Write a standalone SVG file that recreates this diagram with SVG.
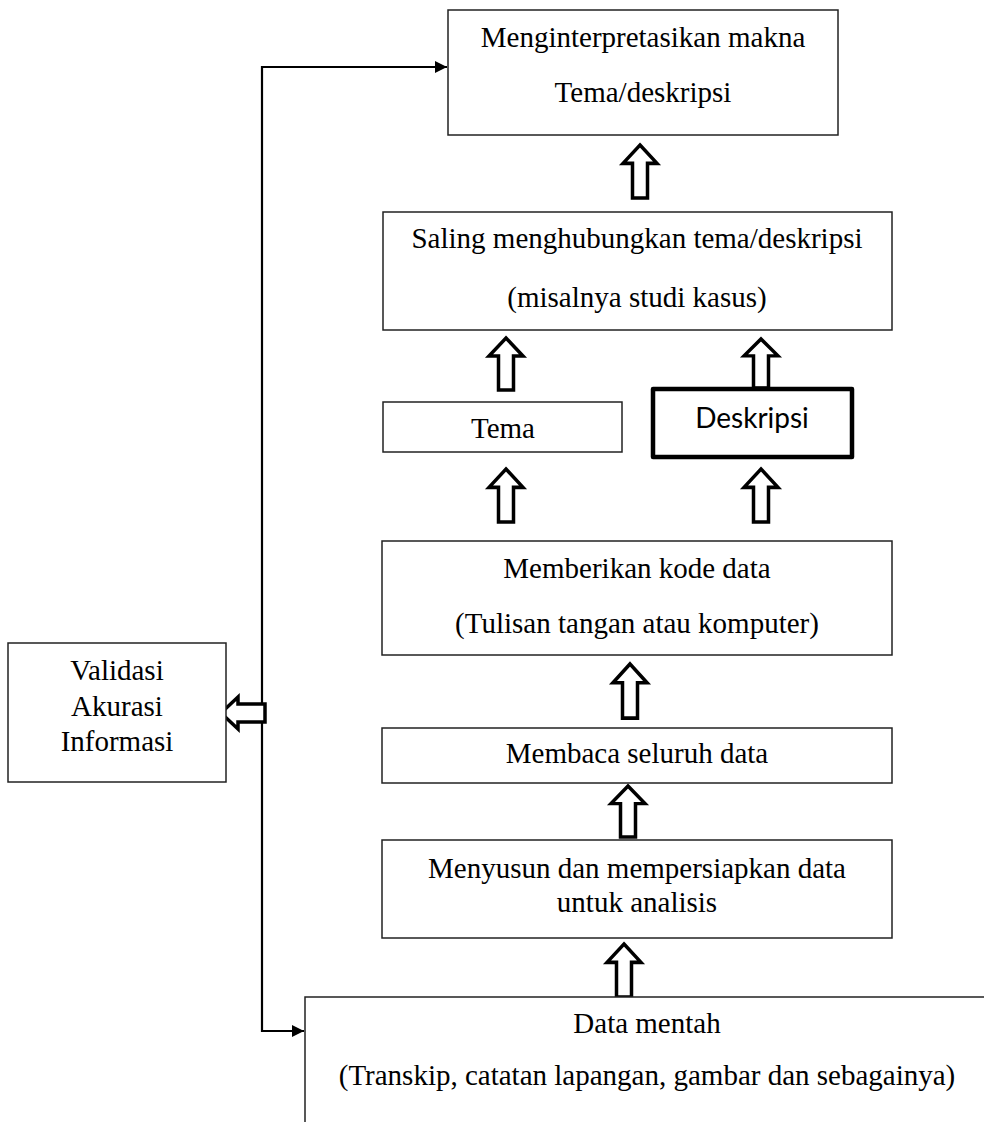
<svg xmlns="http://www.w3.org/2000/svg" width="984" height="1122" viewBox="0 0 984 1122">
<style>
.box{fill:#fff;stroke:#222;stroke-width:1.5}
.thick{fill:#fff;stroke:#000;stroke-width:4.5;stroke-linejoin:round}
.t{font-family:"Liberation Serif","Times New Roman",serif;font-size:29px;fill:#000;text-anchor:middle}
.s{font-family:Lato,"Liberation Sans",sans-serif;font-size:28px;fill:#000;text-anchor:middle}
.ha{fill:#fff;stroke:#000;stroke-width:3.5;stroke-linejoin:miter}
.ln{fill:none;stroke:#000;stroke-width:2.2}
</style>
<defs>
<marker id="ah" viewBox="0 0 10 10" refX="10" refY="5" markerWidth="16" markerHeight="12" markerUnits="userSpaceOnUse" orient="auto"><path d="M0,0 L10,5 L0,10 Z" fill="#000"/></marker>
<path id="up" d="M0,0 L17,18 L7.5,18 L7.5,52 L-7.5,52 L-7.5,18 L-17,18 Z"/>
</defs>
<rect width="984" height="1122" fill="#fff"/>

<g id="connectors">
<path class="ln" d="M262,713 L262,67 L447,67" marker-end="url(#ah)"/>
<path class="ln" d="M262,713 L262,1031 L304,1031" marker-end="url(#ah)"/>
<use href="#up" class="ha" transform="translate(640,145) scale(1,1.02)"/>
<use href="#up" class="ha" transform="translate(506,338)"/>
<use href="#up" class="ha" transform="translate(761,339) scale(1,0.94)"/>
<use href="#up" class="ha" transform="translate(506,469) scale(1,1.02)"/>
<use href="#up" class="ha" transform="translate(761,469) scale(1,1.02)"/>
<use href="#up" class="ha" transform="translate(630,664) scale(1,1.04)"/>
<use href="#up" class="ha" transform="translate(628,786) scale(1,0.98)"/>
<use href="#up" class="ha" transform="translate(624,944) scale(1,1.02)"/>
<path class="ha" d="M221,713 L238,697 L238,704 L265,704 L265,722 L238,722 L238,729 Z"/>
</g>

<g id="node-interpret">
<rect class="box" x="448" y="10" width="390" height="125"/>
<text class="t" x="643" y="47">Menginterpretasikan makna</text>
<text class="t" x="643" y="102">Tema/deskripsi</text>
</g>

<g id="node-saling">
<rect class="box" x="383" y="212" width="509" height="118"/>
<text class="t" x="637" y="248">Saling menghubungkan tema/deskripsi</text>
<text class="t" x="637" y="307">(misalnya studi kasus)</text>
</g>

<g id="node-tema">
<rect class="box" x="383" y="402" width="239" height="50"/>
<text class="t" x="503" y="438">Tema</text>
</g>

<g id="node-deskripsi">
<rect class="thick" x="653" y="389" width="199" height="68"/>
<text class="s" x="752" y="428">Deskripsi</text>
</g>

<g id="node-kode">
<rect class="box" x="382" y="541" width="510" height="114"/>
<text class="t" x="637" y="578">Memberikan kode data</text>
<text class="t" x="637" y="633">(Tulisan tangan atau komputer)</text>
</g>

<g id="node-membaca">
<rect class="box" x="382" y="728" width="510" height="55"/>
<text class="t" x="637" y="763">Membaca seluruh data</text>
</g>

<g id="node-menyusun">
<rect class="box" x="382" y="840" width="510" height="98"/>
<text class="t" x="637" y="878">Menyusun dan mempersiapkan data</text>
<text class="t" x="637" y="912">untuk analisis</text>
</g>

<g id="node-data">
<path class="box" d="M305,1124 L305,997 L986,997"/>
<text class="t" x="647" y="1033">Data mentah</text>
<text class="t" x="647" y="1085">(Transkip, catatan lapangan, gambar dan sebagainya)</text>
</g>

<g id="node-validasi">
<rect class="box" x="8" y="643" width="218" height="139"/>
<text class="t" x="117" y="680">Validasi</text>
<text class="t" x="117" y="716">Akurasi</text>
<text class="t" x="117" y="751">Informasi</text>
</g>
</svg>
